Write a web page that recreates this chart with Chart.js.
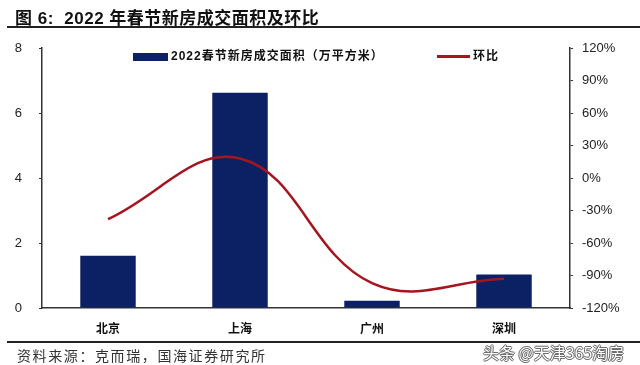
<!DOCTYPE html>
<html>
<head>
<meta charset="utf-8">
<script src="https://cdn.jsdelivr.net/npm/chart.js@4/dist/chart.umd.min.js"></script>
<style>
  html,body{margin:0;padding:0;background:#fff;}
  #wrap{position:relative;width:640px;height:365px;overflow:hidden;font-family:"Liberation Sans","Noto Sans CJK SC",sans-serif;}
  #chart{position:absolute;left:0;top:0;}
  .title{position:absolute;left:15px;top:4px;font-size:17px;font-weight:bold;color:#111;white-space:nowrap;letter-spacing:0.5px;}
  .rule{position:absolute;left:7px;width:633px;height:2px;background:#222;}
  .src{position:absolute;left:17px;top:345px;font-family:"Noto Sans CJK SC",sans-serif;font-size:14px;color:#333;letter-spacing:1.6px;white-space:nowrap;}
  .wm{position:absolute;left:483px;top:340px;font-family:"Noto Sans CJK SC",sans-serif;font-size:16px;color:#fff;white-space:nowrap;
      text-shadow:0 0 1px #555,0 0 1px #555,1px 0 0 #777,-1px 0 0 #777,0 1px 0 #777,0 -1px 0 #777;}
  .leg{position:absolute;top:46px;font-family:"Liberation Sans","Noto Sans CJK SC",sans-serif;font-size:12px;font-weight:bold;color:#111;white-space:nowrap;letter-spacing:1px;}
  .box{position:absolute;left:133px;top:53px;width:35px;height:8px;background:#0c2164;}
  .ln{position:absolute;left:437px;top:55px;width:33px;height:3px;background:#a5151f;}
</style>
</head>
<body>
<div id="wrap">
  <canvas id="chart" width="640" height="365"></canvas>
  <div class="title">图 6:&nbsp; 2022 年春节新房成交面积及环比</div>
  <div class="rule" style="top:26px"></div>
  <div class="box"></div>
  <div class="leg" style="left:171px">2022春节新房成交面积（万平方米）</div>
  <div class="ln"></div>
  <div class="leg" style="left:473px">环比</div>
  <div class="rule" style="top:341px"></div>
  <div class="src">资料来源：克而瑞，国海证券研究所</div>
  <div class="wm">头条 @天津365淘房</div>
</div>
<script>
// 2022 春节新房成交
const cities = ['北京', '上海', '广州', '深圳'];
const area = [1.61, 6.62, 0.22, 1.03];      // 万平方米
const mom = [-38, 18, -97, -93];            // 环比 %
const leftTicks = [0, 2, 4, 6, 8];
const rightTicks = [-120, -90, -60, -30, 0, 30, 60, 90, 120];

const axisColor = '#333';
const tickFont = {family: '"Liberation Sans", Arial, sans-serif', size: 13};

new Chart(document.getElementById('chart').getContext('2d'), {
    data: {
        labels: cities,
        datasets: [
            {type: 'line', label: '环比', data: mom, yAxisID: 'yR', borderColor: '#a5151f', borderWidth: 2.5,
             pointRadius: 0, tension: 0.4, fill: false, order: 0},
            {type: 'bar', label: '2022春节新房成交面积（万平方米）', data: area, yAxisID: 'y', backgroundColor: '#0c2164',
             categoryPercentage: 1, barPercentage: 0.42, order: 1}
        ]
    },
    options: {
        responsive: false,
        animation: false,
        layout: {padding: {top: 48, left: 0, right: 0, bottom: 0}},
        plugins: {legend: {display: false}, tooltip: {enabled: false}},
        scales: {
            x: {
                grid: {display: false},
                border: {display: true, color: axisColor, width: 1.5},
                ticks: {color: '#111', padding: 5, font: {family: '"Noto Sans CJK SC", sans-serif', size: 12, weight: 'bold'}},
                afterFit: s => { s.height = 57; }
            },
            y: {
                position: 'left', min: 0, max: 8,
                afterBuildTicks: s => { s.ticks = leftTicks.map(v => ({value: v})); },
                grid: {drawOnChartArea: false, tickLength: 3, color: axisColor},
                border: {display: true, color: axisColor, width: 1.5},
                ticks: {color: '#222', padding: 17, font: tickFont},
                afterFit: s => { s.width = 42; }
            },
            yR: {
                position: 'right', min: -120, max: 120,
                afterBuildTicks: s => { s.ticks = rightTicks.map(v => ({value: v})); },
                grid: {drawOnChartArea: false, tickLength: 3, color: axisColor},
                border: {display: true, color: axisColor, width: 1.5},
                ticks: {color: '#222', padding: 9, font: tickFont, callback: v => v + '%'},
                afterFit: s => { s.width = 70; }
            }
        }
    }
});
</script>
</body>
</html>
